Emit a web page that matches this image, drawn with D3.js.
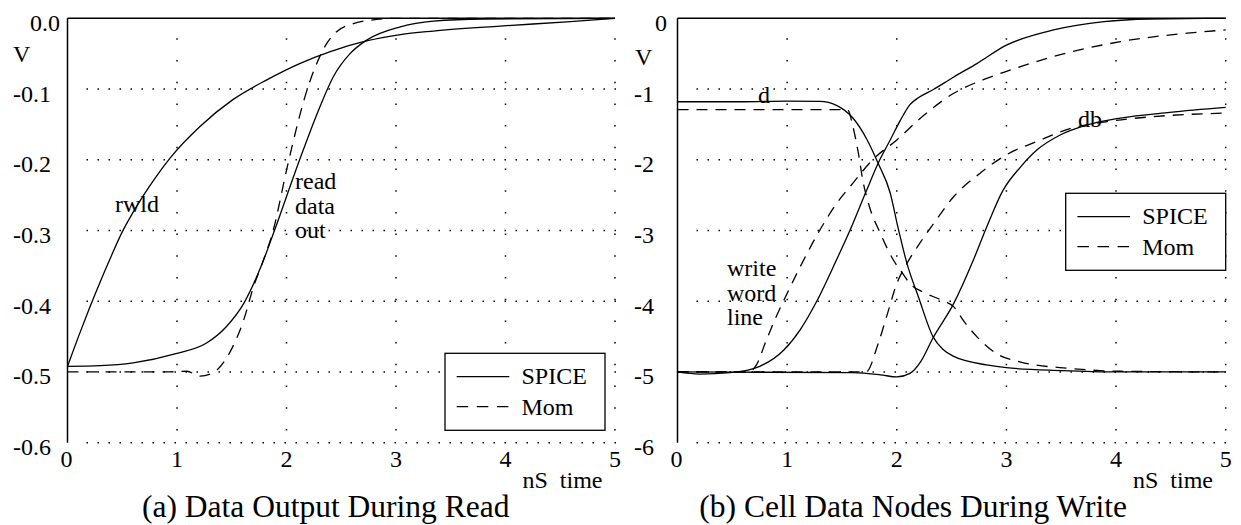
<!DOCTYPE html>
<html><head><meta charset="utf-8">
<script src="https://cdn.jsdelivr.net/npm/d3@7"></script>
<style>
html,body{margin:0;padding:0;background:#fff;}
svg{display:block;}
</style></head>
<body><svg id="c" width="1241" height="525"></svg>
<script>
// ---------- data ----------
const xTicks = [0,1,2,3,4,5];
const xTickLabels = ["0","1","2","3","4","5"];
const yTicksA = [0,-0.1,-0.2,-0.3,-0.4,-0.5,-0.6];
const yTickLabelsA = ["0.0","-0.1","-0.2","-0.3","-0.4","-0.5","-0.6"];
const yTicksB = [0,-1,-2,-3,-4,-5,-6];
const yTickLabelsB = ["0","-1","-2","-3","-4","-5","-6"];
const legendLabels = ["SPICE","Mom"];

// (a) Data Output During Read  [time nS, volts]
const rwldSpice = [[0,-0.492],[0.1,-0.45],[0.2,-0.41],[0.3,-0.372],[0.4,-0.336],[0.5,-0.302],[0.6,-0.274],[0.7,-0.249],[0.8,-0.226],[0.94,-0.197],[1.21,-0.153],[1.51,-0.115],[1.82,-0.087],[2.12,-0.064],[2.4,-0.047],[2.73,-0.032],[3.04,-0.023],[3.34,-0.018],[3.95,-0.011],[4.56,-0.005],[5,0]];
const readSpice = [[0,-0.492],[0.3,-0.491],[0.6,-0.487],[0.99,-0.474],[1.27,-0.459],[1.45,-0.436],[1.61,-0.403],[1.77,-0.35],[1.89,-0.3],[2.12,-0.2],[2.3,-0.127],[2.43,-0.082],[2.58,-0.05],[2.73,-0.031],[3.04,-0.012],[3.34,-0.004],[3.8,-0.001],[5,0]];
const readMom = [[0,-0.5],[0.9,-0.5],[1.09,-0.499],[1.21,-0.506],[1.33,-0.501],[1.48,-0.473],[1.61,-0.426],[1.7,-0.379],[1.77,-0.35],[1.88,-0.299],[2.0,-0.215],[2.1,-0.15],[2.18,-0.105],[2.26,-0.07],[2.35,-0.04],[2.45,-0.02],[2.6,-0.008],[2.75,-0.003],[3,0],[5,0]];

// (b) Cell Data Nodes During Write
const dSpice = [[0,-1.18],[0.6,-1.18],[1.0,-1.17],[1.3,-1.175],[1.45,-1.23],[1.6,-1.41],[1.73,-1.72],[1.83,-2.05],[1.94,-2.47],[2.01,-2.95],[2.09,-3.45],[2.2,-3.95],[2.33,-4.5],[2.42,-4.68],[2.52,-4.78],[2.82,-4.9],[3.0,-4.94],[3.5,-4.98],[4,-5.0],[5,-5.0]];
const dMom = [[0,-1.29],[1.0,-1.29],[1.55,-1.29],[1.6,-1.53],[1.65,-1.91],[1.69,-2.29],[1.75,-2.66],[1.85,-3.04],[1.97,-3.42],[2.05,-3.6],[2.12,-3.75],[2.24,-3.87],[2.4,-3.98],[2.52,-4.08],[2.62,-4.3],[2.73,-4.5],[2.91,-4.74],[3.13,-4.86],[3.58,-4.95],[4.04,-4.99],[5,-5.0]];
const wwlSpice = [[0,-5.0],[0.2,-5.03],[0.48,-5.01],[0.75,-4.92],[0.97,-4.69],[1.12,-4.4],[1.27,-4.0],[1.44,-3.45],[1.6,-2.9],[1.72,-2.45],[1.83,-2.05],[1.94,-1.72],[2.03,-1.45],[2.12,-1.22],[2.2,-1.12],[2.33,-1.01],[2.52,-0.83],[2.73,-0.64],[3.0,-0.38],[3.43,-0.165],[3.89,-0.047],[4.3,-0.01],[5,0]];
const wwlMom = [[0,-5.0],[0.65,-5.0],[0.72,-4.9],[0.81,-4.55],[0.9,-4.22],[1.0,-3.89],[1.12,-3.51],[1.3,-2.99],[1.45,-2.62],[1.6,-2.33],[1.78,-2.0],[2.0,-1.72],[2.21,-1.42],[2.52,-1.06],[2.82,-0.85],[3.0,-0.75],[3.43,-0.54],[4.04,-0.33],[4.65,-0.21],[5,-0.165]];
const dbSpice = [[0,-5.0],[1.6,-5.01],[1.85,-5.04],[2.0,-5.07],[2.12,-5.02],[2.22,-4.85],[2.33,-4.52],[2.52,-4.03],[2.69,-3.45],[2.82,-2.95],[2.97,-2.43],[3.13,-2.1],[3.28,-1.86],[3.49,-1.65],[3.73,-1.51],[4.04,-1.41],[4.49,-1.33],[5,-1.26]];
const dbMom = [[0,-5.0],[1.65,-5.0],[1.72,-5.0],[1.83,-4.6],[1.92,-4.15],[2.0,-3.75],[2.08,-3.5],[2.21,-3.18],[2.36,-2.85],[2.52,-2.52],[2.76,-2.19],[3.0,-1.93],[3.28,-1.74],[3.58,-1.56],[3.92,-1.46],[4.34,-1.39],[5,-1.34]];

// ---------- drawing ----------
const FONT = "'Liberation Serif', 'Times New Roman', Times, serif";
const svg = d3.select("#c");
const DASH = "11,8";

function txt(g, x, y, s, size, anchor){
  return g.append("text").attr("x",x).attr("y",y)
    .style("font-family",FONT)
    .attr("font-size",size).attr("fill","#000")
    .attr("text-anchor",anchor||"start").text(s);
}

function panel(cfg){
  const x = d3.scaleLinear().domain([0,5]).range(cfg.xr);
  const y = d3.scaleLinear().domain([cfg.ymin,0]).range([442.7,18.3]);
  const g = svg.append("g");
  // horizontal dotted grid
  g.selectAll("line.hg").data(cfg.yTicks.slice(1)).enter().append("line")
    .attr("x1", x(0)+19).attr("x2", x(5)+1).attr("y1", d=>y(d)).attr("y2", d=>y(d))
    .attr("stroke","#000").attr("stroke-width",1.5).attr("stroke-dasharray","1.5,9.5");
  // vertical dotted grid
  g.selectAll("line.vg").data(xTicks.slice(1)).enter().append("line")
    .attr("x1", d=>x(d)).attr("x2", d=>x(d)).attr("y1", y(0)+20).attr("y2", y(cfg.ymin)+1)
    .attr("stroke","#000").attr("stroke-width",1.5).attr("stroke-dasharray","1.5,20.2");
  // curves
  const line = d3.line().x(d=>x(d[0])).y(d=>y(d[1])).curve(d3.curveMonotoneX);
  cfg.series.forEach(s=>{
    g.append("path").attr("d", line(s.data)).attr("fill","none")
      .attr("stroke","#000").attr("stroke-width",1.3)
      .attr("stroke-dasharray", s.dashed ? DASH : null);
  });
  // frame: top and left
  g.append("line").attr("x1",x(0)).attr("x2",x(5)).attr("y1",y(0)).attr("y2",y(0))
    .attr("stroke","#000").attr("stroke-width",1.5);
  g.append("line").attr("x1",x(0)).attr("x2",x(0)).attr("y1",y(0)).attr("y2",y(cfg.ymin))
    .attr("stroke","#000").attr("stroke-width",1.5);
  // y tick labels
  cfg.yTicks.forEach((d,i)=>{
    txt(g, i===0 ? cfg.yTopLabelX : cfg.yLabelX, y(d)+12.5, cfg.yLabels[i], 24, "end");
  });
  // x tick labels
  xTicks.forEach((d,i)=>{
    txt(g, i===0 ? x(d)-1 : x(d), 467, xTickLabels[i], 24, "middle");
  });
  // unit labels
  txt(g, cfg.vX, cfg.vY, "V", 24);
  txt(g, cfg.nsX, 487.5, "nS  time", 24).style("white-space","pre");
  // legend
  const lx = cfg.legX, ly = cfg.legY;
  g.append("rect").attr("x",lx).attr("y",ly).attr("width",160).attr("height",77)
    .attr("fill","#fff").attr("stroke","#000").attr("stroke-width",1.3);
  legendLabels.forEach((lab,i)=>{
    g.append("line").attr("x1",lx+11.7).attr("x2",lx+64.3)
      .attr("y1",ly+23.4+30*i).attr("y2",ly+23.4+30*i)
      .attr("stroke","#000").attr("stroke-width",1.3)
      .attr("stroke-dasharray", i===1 ? "11.5,8.6" : null);
    txt(g, lx+76.5, ly+30.7+31*i, lab, 24);
  });
  // annotations
  cfg.notes.forEach(n=>{
    n.lines.forEach((t,i)=>{ txt(g, n.x, n.y+24.5*i, t, 24); });
  });
  // caption
  txt(g, cfg.capX, 517, cfg.caption, 31.5, cfg.capAnchor);
}

panel({
  xr:[67.5,615], ymin:-0.6, yTicks:yTicksA, yLabels:yTickLabelsA,
  yLabelX:51, yTopLabelX:60, vX:13, vY:62, nsX:522.5,
  legX:445, legY:353.3,
  series:[{data:rwldSpice},{data:readSpice},{data:readMom,dashed:true}],
  notes:[{x:115,y:212,lines:["rwld"]},{x:295,y:189,lines:["read","data","out"]}],
  caption:"(a) Data Output During Read", capX:142, capAnchor:"start"
});
panel({
  xr:[677.5,1225.7], ymin:-6, yTicks:yTicksB, yLabels:yTickLabelsB,
  yLabelX:654, yTopLabelX:667, vX:635, vY:65, nsX:1133,
  legX:1065.7, legY:193.3,
  series:[{data:dSpice},{data:dMom,dashed:true},{data:wwlSpice},{data:wwlMom,dashed:true},{data:dbSpice},{data:dbMom,dashed:true}],
  notes:[{x:758,y:103,lines:["d"]},{x:1078,y:126.5,lines:["db"]},{x:727,y:276,lines:["write","word","line"]}],
  caption:"(b) Cell Data Nodes During Write", capX:1127, capAnchor:"end"
});
</script></body></html>
